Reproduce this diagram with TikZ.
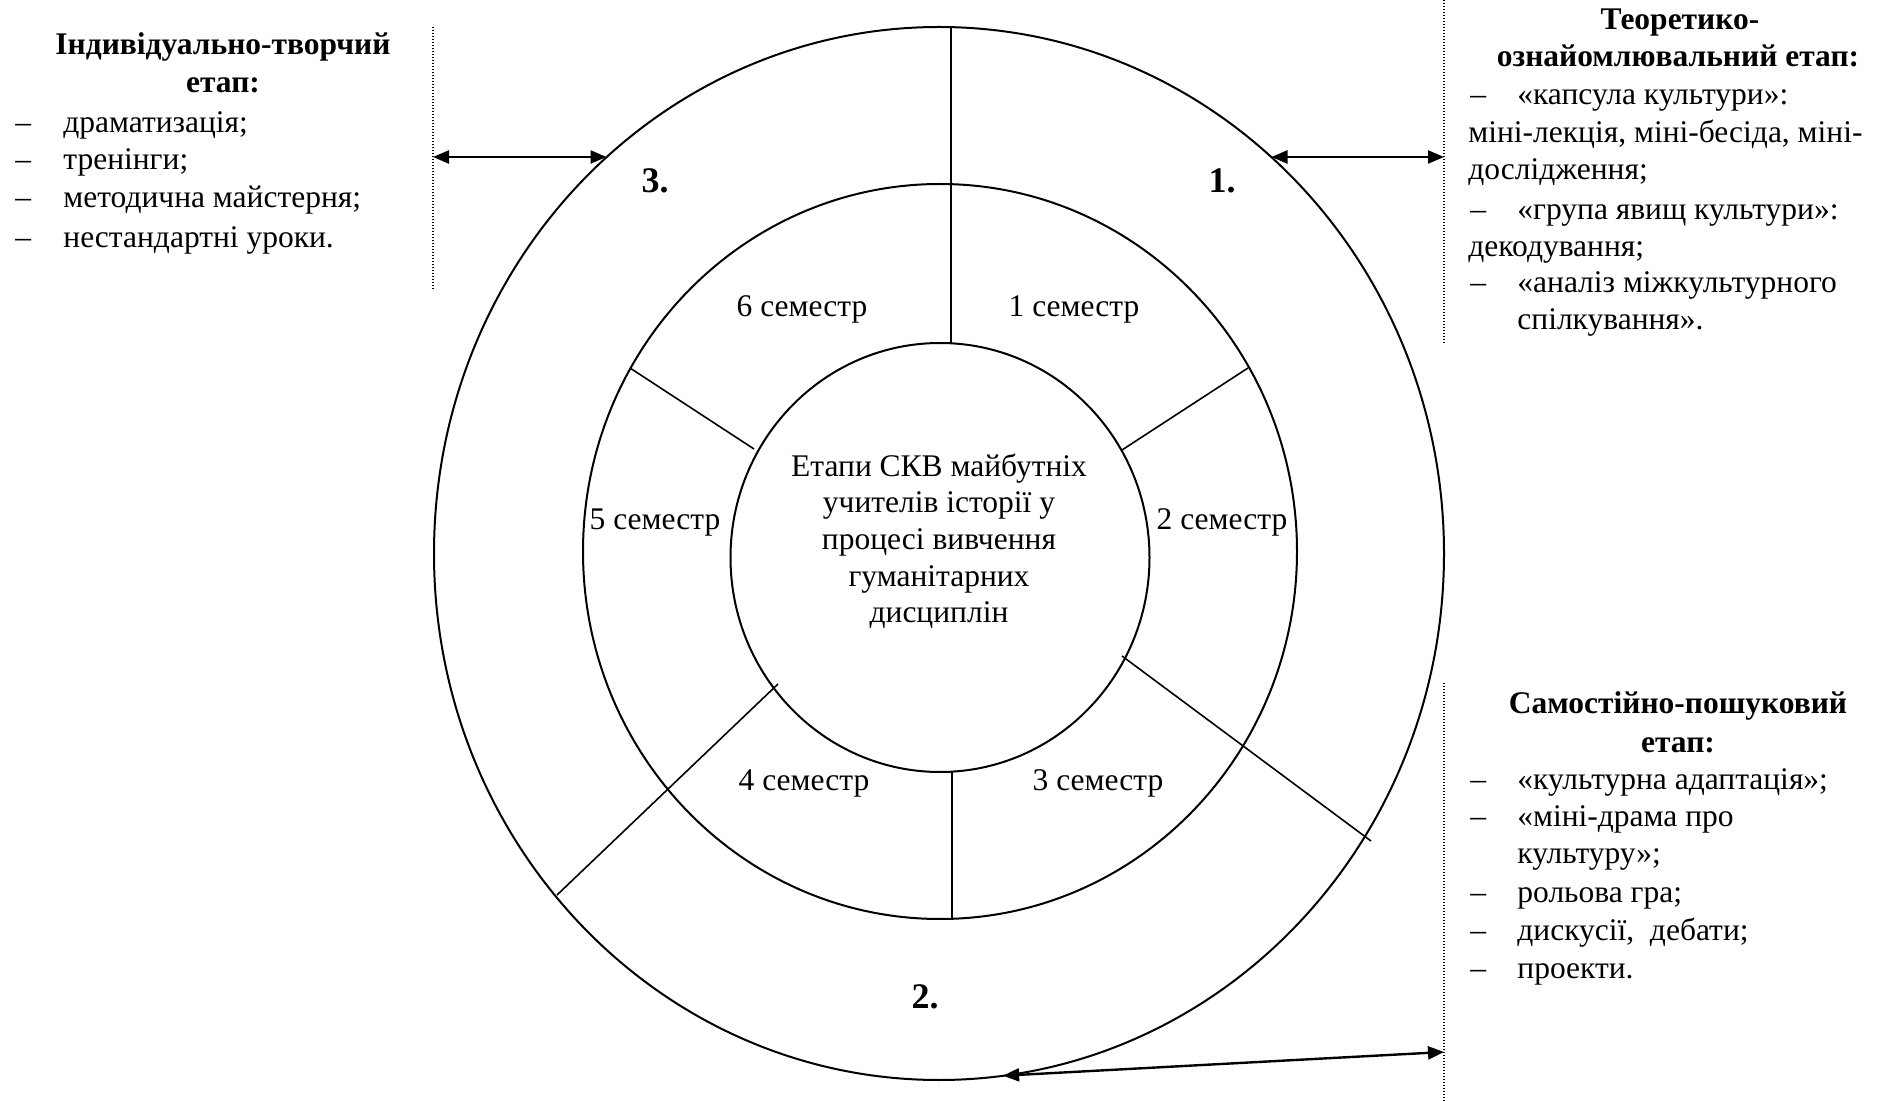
\documentclass[tikz,border=0pt]{standalone}
\usepackage{fontspec}
\setmainfont{Liberation Serif}
\usetikzlibrary{shapes.geometric,arrows.meta}
\begin{document}
\begin{tikzpicture}[x=0.5pt,y=-0.5pt,
  txt/.style={inner sep=0pt, font=\fontsize{15.75pt}{18.75pt}\selectfont},
  hd/.style={inner sep=0pt, font=\fontsize{15.75pt}{18.75pt}\selectfont\bfseries},
  num/.style={inner sep=0pt, font=\fontsize{18pt}{20pt}\selectfont\bfseries},
  ring/.style={draw, ellipse, line width=1pt, inner sep=0pt, outer sep=0pt},
  sepline/.style={line width=0.8pt},
  guide/.style={line width=0.6pt, dash pattern=on 0.6pt off 0.9pt},
  link/.style={line width=1.2pt, {Triangle[length=8pt,width=6.5pt]}-{Triangle[length=8pt,width=6.5pt]}}
]
\useasboundingbox (0,0) rectangle (1892,1101);

% rings
\node[ring, minimum width=505pt, minimum height=526.5pt] (outer) at (939,553.5) {};
\node[ring, minimum width=357pt, minimum height=367.5pt] (middle) at (940,551.5) {};
\node[ring, minimum width=209.5pt, minimum height=214.5pt] (inner) at (940,557.5) {};

% separators
\draw[sepline] (951,27) -- (951,343);
\draw[sepline] (952,772) -- (952,919);
\draw[sepline] (1122,450) -- (1248,368);
\draw[sepline] (630,368) -- (754,449);
\draw[sepline] (778,684) -- (557,895);
\draw[sepline] (1122,656) -- (1371,841);

% dotted guides
\coordinate (gl1) at (433,27);
\coordinate (gl2) at (433,290);
\coordinate (gr1) at (1444,0);
\coordinate (gr2) at (1444,344);
\coordinate (gr3) at (1444,683);
\coordinate (gr4) at (1444,1101);
\draw[guide] (gl1) -- (gl2);
\draw[guide] (gr1) -- (gr2);
\draw[guide] (gr3) -- (gr4);

% arrows
\coordinate (a3) at (433,157);
\coordinate (a1) at (1444,157);
\coordinate (a2) at (1444,1052);
\draw[link] (a3) -- (a3 -| outer.130);
\draw[link] (a1 -| outer.50) -- (a1);
\draw[link] (a2) -- (outer.-83);

% centre text
\node[txt, anchor=base] (c1) at (939,477) {Етапи СКВ майбутніх};
\node[txt, anchor=base] (c2) at (939,513) {учителів історії у};
\node[txt, anchor=base] (c3) at (939,550) {процесі вивчення};
\node[txt, anchor=base] (c4) at (939,587) {гуманітарних};
\node[txt, anchor=base] (c5) at (939,623) {дисциплін};

% semesters
\node[txt, anchor=base] (s1) at (1074,317) {1 семестр};
\node[txt, anchor=base] (s6) at (802,317) {6 семестр};
\node[txt, anchor=base] (s2) at (1222,530) {2 семестр};
\node[txt, anchor=base] (s5) at (655,530) {5 семестр};
\node[txt, anchor=base] (s3) at (1098,791) {3 семестр};
\node[txt, anchor=base] (s4) at (804,791) {4 семестр};

% stage numbers
\node[num, anchor=base] (n1) at (1222,193) {1.};
\node[num, anchor=base] (n3) at (655,193) {3.};
\node[num, anchor=base] (n2) at (925,1008) {2.};

% left block
\node[hd, anchor=base] (lh1) at (223,55) {Індивідуально-творчий};
\node[hd, anchor=base] (lh2) at (223,93) {етап:};
\node[txt, anchor=base west] (ld1) at (15,133) {–};
\node[txt, anchor=base west] (lt1) at (63,133) {драматизація;};
\node[txt, anchor=base west] (ld2) at (15,170) {–};
\node[txt, anchor=base west] (lt2) at (63,170) {тренінги;};
\node[txt, anchor=base west] (ld3) at (15,208) {–};
\node[txt, anchor=base west] (lt3) at (63,208) {методична майстерня;};
\node[txt, anchor=base west] (ld4) at (15,248) {–};
\node[txt, anchor=base west] (lt4) at (63,248) {нестандартні уроки.};

% right top block
\node[hd, anchor=base] (rh1) at (1680,30) {Теоретико-};
\node[hd, anchor=base] (rh2) at (1678,67) {ознайомлювальний етап:};
\node[txt, anchor=base west] (rd1) at (1470,105) {–};
\node[txt, anchor=base west] (rt1) at (1517,105) {«капсула культури»:};
\node[txt, anchor=base west] (rt2) at (1468,143) {міні-лекція, міні-бесіда, міні-};
\node[txt, anchor=base west] (rt3) at (1468,180) {дослідження;};
\node[txt, anchor=base west] (rd2) at (1470,220) {–};
\node[txt, anchor=base west] (rt4) at (1517,220) {«група явищ культури»:};
\node[txt, anchor=base west] (rt5) at (1468,257) {декодування;};
\node[txt, anchor=base west] (rd3) at (1470,293) {–};
\node[txt, anchor=base west] (rt6) at (1517,293) {«аналіз міжкультурного};
\node[txt, anchor=base west] (rt7) at (1517,330) {спілкування».};

% right bottom block
\node[hd, anchor=base] (bh1) at (1678,713) {Самостійно-пошуковий};
\node[hd, anchor=base] (bh2) at (1678,752) {етап:};
\node[txt, anchor=base west] (bd1) at (1470,790) {–};
\node[txt, anchor=base west] (bt1) at (1517,790) {«культурна адаптація»;};
\node[txt, anchor=base west] (bd2) at (1470,827) {–};
\node[txt, anchor=base west] (bt2) at (1517,827) {«міні-драма про};
\node[txt, anchor=base west] (bt3) at (1517,863) {культуру»;};
\node[txt, anchor=base west] (bd3) at (1470,902) {–};
\node[txt, anchor=base west] (bt4) at (1517,902) {рольова гра;};
\node[txt, anchor=base west] (bd4) at (1470,940) {–};
\node[txt, anchor=base west] (bt5) at (1517,940) {дискусії,\ \ дебати;};
\node[txt, anchor=base west] (bd5) at (1470,978) {–};
\node[txt, anchor=base west] (bt6) at (1517,978) {проекти.};
\end{tikzpicture}
\end{document}
